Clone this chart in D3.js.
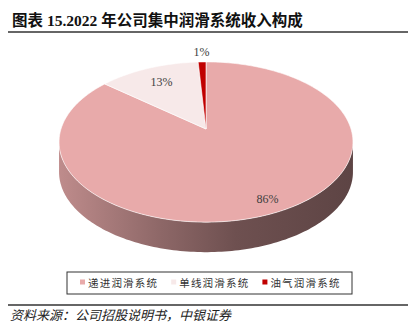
<!DOCTYPE html>
<html lang="zh">
<head>
<meta charset="UTF-8" />
<title>2022年公司集中润滑系统收入构成</title>
<script src="https://d3js.org/d3.v7.min.js"></script>
<style>
  body { margin: 0; background: #fff; }
  svg { display: block; }
  .cjk { font-family: "Liberation Serif", "Noto Sans CJK SC", serif; }
</style>
</head>
<body>
<div id="chart"></div>
<script>
// data
const categories = ['递进润滑系统', '单线润滑系统', '油气润滑系统'];
const values = [86, 13, 1];
const valueLabels = ['86%', '13%', '1%'];
const colors = ['#E8AAAA', '#F7E9E9', '#C00000'];

const W = 412, H = 325;
const svg = d3.select('#chart').append('svg')
  .attr('width', W).attr('height', H);

// title + rules
svg.append('text')
  .attr('class', 'cjk')
  .attr('x', 12).attr('y', 26)
  .style('font-size', '15.5px').style('font-weight', 'bold')
  .attr('fill', '#111')
  .text('图表 15.2022 年公司集中润滑系统收入构成');

svg.append('line').attr('x1', 8).attr('x2', 408).attr('y1', 32).attr('y2', 32)
  .attr('stroke', '#333').attr('stroke-width', 1.5);
svg.append('line').attr('x1', 8).attr('x2', 408).attr('y1', 305).attr('y2', 305)
  .attr('stroke', '#333').attr('stroke-width', 1.5);

svg.append('text')
  .attr('x', 10).attr('y', 319.5)
  .style('font-family', '"Noto Sans CJK SC", sans-serif')
  .style('font-size', '13px').style('font-style', 'italic')
  .attr('fill', '#222')
  .text('资料来源：公司招股说明书，中银证券');

// 3D pie: tilted disc with a bit of perspective
const cx = 206, cy = 129;   // projected centre of the disc
const A = 145, B = 78;      // horizontal / vertical half axes
const k = 0.1625;           // perspective strength (back is smaller)
const depth = 30;

function proj(a, r, dy) {
  const u = r * Math.sin(a), v = r * Math.cos(a);
  const w = 1 + k * v;
  return [cx + A * u / w, cy - B * v / w + (dy || 0)];
}

function rim(a0, a1, dy) {
  const n = Math.max(2, Math.ceil((a1 - a0) / 0.02));
  return d3.range(n + 1).map(i => proj(a0 + (a1 - a0) * i / n, 1, dy));
}

const pie = d3.pie().sort(null).value(d => d)
  .startAngle(0).endAngle(2 * Math.PI);
const arcs = pie(values);

const defs = svg.append('defs');
const line = d3.line();

// visible side: from the rightmost to the leftmost rim point, through the front
const frontStart = Math.acos(-k);
const frontEnd = 2 * Math.PI - frontStart;

arcs.forEach((d, i) => {
  const s = Math.max(d.startAngle, frontStart);
  const e = Math.min(d.endAngle, frontEnd);
  if (e <= s) return;
  const c = d3.color(colors[i]);
  const g = defs.append('linearGradient')
    .attr('id', 'side' + i)
    .attr('gradientUnits', 'userSpaceOnUse')
    .attr('x1', cx - A * 1.02).attr('x2', cx + A * 1.02)
    .attr('y1', 0).attr('y2', 0);
  [[0, 0.55], [0.35, 1.4], [0.6, 2.1], [1, 2.55]].forEach(([o, dk]) => {
    g.append('stop').attr('offset', o).attr('stop-color', c.darker(dk).formatHex());
  });
  const pts = rim(s, e, 0).concat(rim(s, e, depth).reverse());
  svg.append('path')
    .attr('d', line(pts) + 'Z')
    .attr('fill', `url(#side${i})`);
});

// top faces
arcs.forEach((d, i) => {
  const pts = [[cx, cy]].concat(rim(d.startAngle, d.endAngle, 0));
  svg.append('path')
    .attr('d', line(pts) + 'Z')
    .attr('fill', colors[i])
    .attr('stroke', '#fff')
    .attr('stroke-width', 0.6)
    .attr('stroke-linejoin', 'round');
});

// value labels
arcs.forEach((d, i) => {
  const mid = (d.startAngle + d.endAngle) / 2;
  const frac = d.value / d3.sum(values);
  const r = frac < 0.05 ? 1.17 : frac > 0.5 ? 0.87 : 0.75;
  const [x, y] = proj(mid, r, 0);
  svg.append('text')
    .attr('x', x).attr('y', y)
    .attr('text-anchor', 'middle')
    .attr('dominant-baseline', 'central')
    .style('font-family', '"Liberation Serif", serif')
    .style('font-size', '12px')
    .attr('fill', '#404040')
    .text(valueLabels[i]);
});

// legend
const legend = svg.append('g');
legend.append('rect')
  .attr('x', 67).attr('y', 272).attr('width', 285).attr('height', 22)
  .attr('fill', '#fff').attr('stroke', '#333').attr('stroke-width', 1);

let lx = 80;
categories.forEach((name, i) => {
  legend.append('rect')
    .attr('x', lx).attr('y', 279.5).attr('width', 5).attr('height', 5)
    .attr('fill', colors[i]);
  const t = legend.append('text')
    .attr('x', lx + 8).attr('y', 282)
    .attr('dominant-baseline', 'central')
    .style('font-family', '"Noto Sans CJK SC", sans-serif')
    .style('font-size', '10.5px')
    .style('letter-spacing', '1.2px')
    .attr('fill', '#333')
    .text(name);
  lx += 8 + t.node().getComputedTextLength() + 13;
});
</script>
</body>
</html>
